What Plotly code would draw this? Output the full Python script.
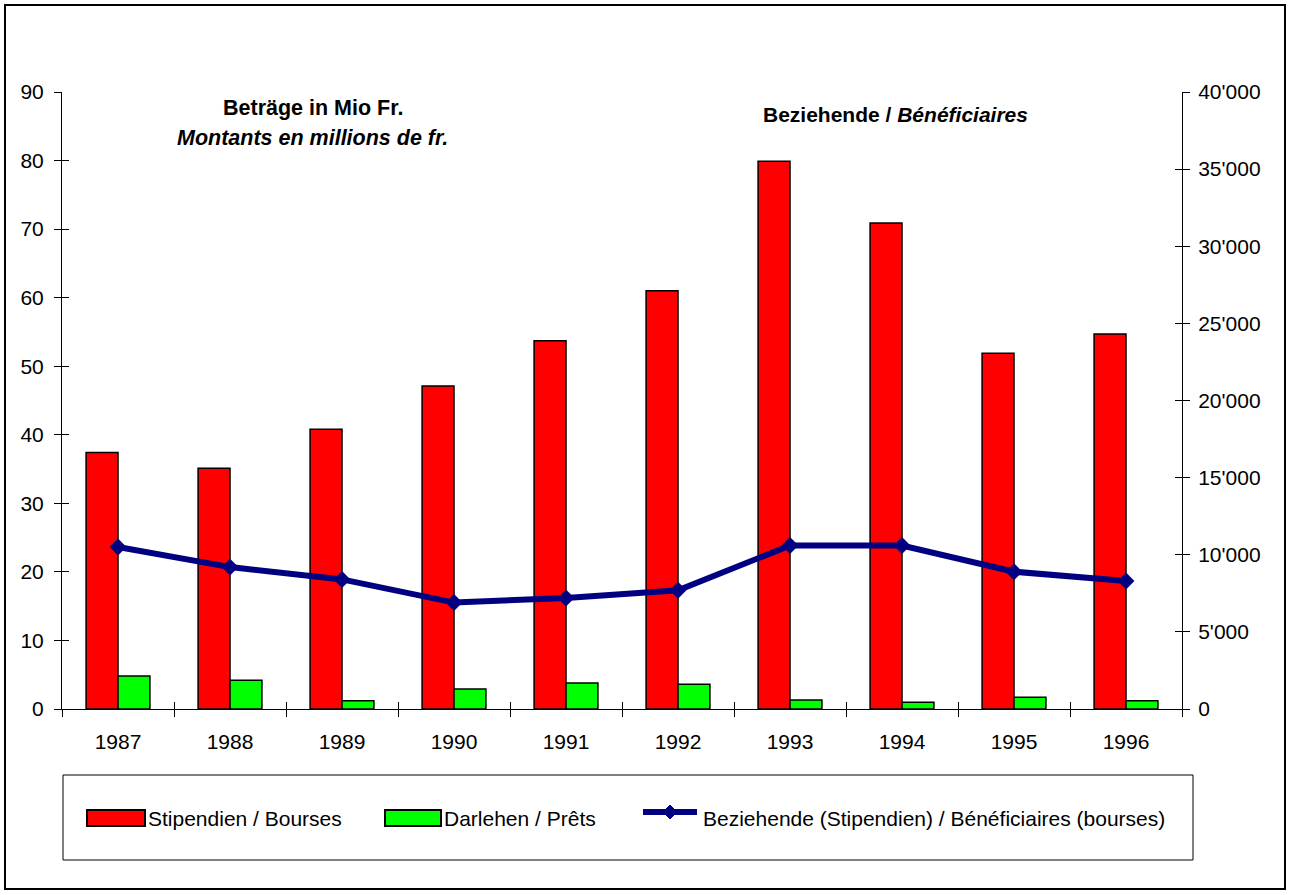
import plotly.graph_objects as go

years = ["1987", "1988", "1989", "1990", "1991", "1992", "1993", "1994", "1995", "1996"]
stipendien = [37.4, 35.1, 40.8, 47.1, 53.7, 61.0, 79.9, 70.9, 51.9, 54.7]
darlehen = [4.8, 4.2, 1.2, 2.9, 3.8, 3.6, 1.3, 1.0, 1.7, 1.2]
beziehende = [10500, 9200, 8400, 6900, 7200, 7700, 10600, 10600, 8900, 8300]

left_ticks = list(range(0, 91, 10))
right_ticks = list(range(0, 40001, 5000))
boundaries = [i - 0.5 for i in range(len(years) + 1)]

FONT = "Liberation Sans, Arial, sans-serif"
RED = "#FF0000"
GREEN = "#00FF00"
NAVY = "#000080"

# plot area in pixels: x 62..1182, y 92..709
W, H = 1289, 895
L, R, T, B = 62, 1182, 92, 709


def px(x):
    return (x - L) / (R - L)


def py(y):
    return (B - y) / (B - T)


fig = go.Figure()
fig.add_trace(go.Bar(
    x=years, y=stipendien, name="Stipendien / Bourses",
    marker=dict(color=RED, line=dict(color="black", width=1.5)),
    showlegend=False, hoverinfo="skip",
))
fig.add_trace(go.Bar(
    x=years, y=darlehen, name="Darlehen / Prêts",
    marker=dict(color=GREEN, line=dict(color="black", width=1.5)),
    showlegend=False, hoverinfo="skip",
))
fig.add_trace(go.Scatter(
    x=years, y=beziehende, yaxis="y2", mode="lines+markers",
    name="Beziehende (Stipendien) / Bénéficiaires (bourses)",
    line=dict(color=NAVY, width=6),
    marker=dict(symbol="diamond", size=13, color=NAVY),
    showlegend=False, hoverinfo="skip",
))
# empty traces so the inside-tick overlay axes get drawn
fig.add_trace(go.Scatter(x=[], y=[], xaxis="x2", yaxis="y3", showlegend=False, hoverinfo="skip"))
fig.add_trace(go.Scatter(x=[], y=[], xaxis="x2", yaxis="y4", showlegend=False, hoverinfo="skip"))

tickfont = dict(family=FONT, size=21, color="black")
fig.update_layout(
    template="none",
    width=W, height=H,
    margin=dict(l=L, r=W - R, t=T, b=H - B, autoexpand=False),
    paper_bgcolor="white", plot_bgcolor="white",
    separators=".'",
    barmode="group", bargap=0.43, bargroupgap=0,
    font=dict(family=FONT, size=20, color="black"),
    xaxis=dict(
        type="category", range=[-0.5, 9.5], tickson="boundaries",
        ticks="outside", ticklen=7, tickcolor="black", tickwidth=1,
        showline=True, linecolor="black", linewidth=1, ticklabelstandoff=14,
        showgrid=False, zeroline=False, tickfont=tickfont, automargin=False,
    ),
    xaxis2=dict(
        overlaying="x", range=[-0.5, 9.5], tickvals=boundaries,
        ticks="inside", ticklen=7, tickcolor="black", tickwidth=1,
        showticklabels=False, showline=False, showgrid=False, zeroline=False,
    ),
    yaxis=dict(
        range=[0, 90], tickvals=left_ticks,
        ticks="outside", ticklen=7, tickcolor="black", tickwidth=1,
        showline=True, linecolor="black", linewidth=1, ticklabelstandoff=6,
        showgrid=False, zeroline=False, tickfont=tickfont, automargin=False,
    ),
    yaxis2=dict(
        overlaying="y", side="right", range=[0, 40000], tickvals=right_ticks,
        tickformat=",d",
        ticks="outside", ticklen=7, tickcolor="black", tickwidth=1,
        showline=True, linecolor="black", linewidth=1, ticklabelstandoff=4,
        showgrid=False, zeroline=False, tickfont=tickfont, automargin=False,
    ),
    yaxis3=dict(
        overlaying="y", side="left", range=[0, 90], tickvals=left_ticks,
        ticks="inside", ticklen=7, tickcolor="black", tickwidth=1,
        showticklabels=False, showline=False, showgrid=False, zeroline=False,
    ),
    yaxis4=dict(
        overlaying="y", side="right", range=[0, 40000], tickvals=right_ticks,
        ticks="inside", ticklen=7, tickcolor="black", tickwidth=1,
        showticklabels=False, showline=False, showgrid=False, zeroline=False,
    ),
)

shapes = [
    # outer frame
    dict(type="rect", xref="paper", yref="paper",
         x0=px(5), x1=px(1285), y0=py(889), y1=py(5),
         line=dict(color="black", width=2)),
    # legend box and swatches
    dict(type="rect", xref="paper", yref="paper",
         x0=px(63), x1=px(1193), y0=py(860), y1=py(775),
         line=dict(color="black", width=1)),
    dict(type="rect", xref="paper", yref="paper",
         x0=px(87), x1=px(145), y0=py(826), y1=py(810),
         fillcolor=RED, line=dict(color="black", width=2)),
    dict(type="rect", xref="paper", yref="paper",
         x0=px(385), x1=px(441), y0=py(826), y1=py(810),
         fillcolor=GREEN, line=dict(color="black", width=2)),
    dict(type="line", xref="paper", yref="paper",
         x0=px(643), x1=px(697), y0=py(812), y1=py(812),
         line=dict(color=NAVY, width=6)),
    dict(type="path", xref="paper", yref="paper",
         xsizemode="pixel", ysizemode="pixel",
         xanchor=px(670), yanchor=py(812),
         path="M -7 0 L 0 7 L 7 0 L 0 -7 Z",
         fillcolor=NAVY, line=dict(color=NAVY, width=1)),
]

legend_font = dict(family=FONT, size=21, color="black")
title_font = dict(family=FONT, size=21.5, color="black")
annotations = [
    dict(text="<b>Beträge in Mio Fr.</b>", x=px(313), y=py(108), font=title_font),
    dict(text="<b><i>Montants en millions de fr.</i></b>", x=px(312), y=py(138), font=title_font),
    dict(text="<b>Beziehende / <i>Bénéficiaires</i></b>", x=px(895), y=py(115),
         font=dict(family=FONT, size=21, color="black")),
    dict(text="Stipendien / Bourses", x=px(146), y=py(818), xanchor="left", font=legend_font),
    dict(text="Darlehen / Prêts", x=px(442), y=py(818), xanchor="left", font=legend_font),
    dict(text="Beziehende (Stipendien) / Bénéficiaires (bourses)", x=px(701), y=py(818),
         xanchor="left", font=legend_font),
]
for a in annotations:
    a.update(xref="paper", yref="paper", showarrow=False, yanchor="middle")
    a.setdefault("xanchor", "center")

fig.update_layout(shapes=shapes, annotations=annotations)

# drop the browser's default body margin so the figure sits at the page origin
fig.write_html("out.html", config={"displayModeBar": False},
               post_script="document.body.style.margin='0';")
